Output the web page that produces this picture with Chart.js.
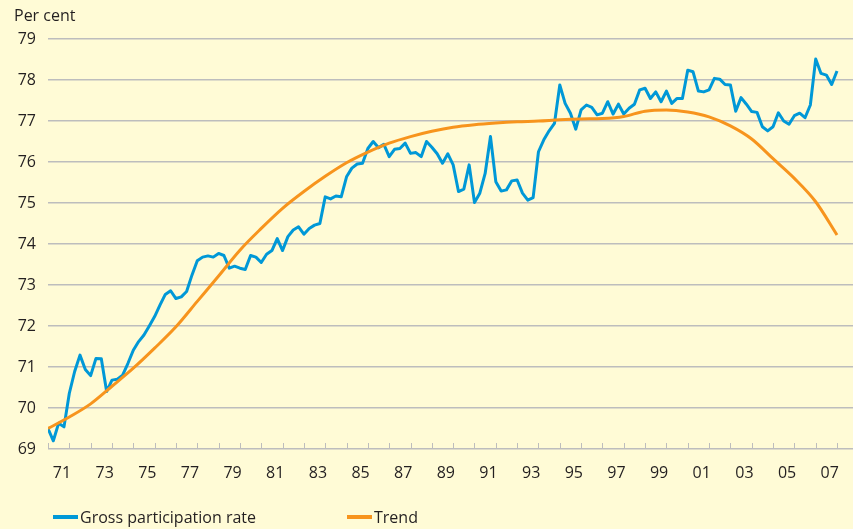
<!DOCTYPE html>
<html>
<head>
<meta charset="utf-8">
<title>Gross participation rate</title>
<script src="https://cdn.jsdelivr.net/npm/chart.js@4.4.0/dist/chart.umd.min.js"></script>
<style>
  html, body { margin: 0; padding: 0; background: #fffbd6; }
  #wrap { width: 853px; height: 529px; }
</style>
</head>
<body>
<div id="wrap"><canvas id="chart" width="853" height="529"></canvas></div>
<script>
// quarterly gross participation rate, 1971 Q1 to 2008 Q1 (per cent)
const participation = [
  69.50, 69.20, 69.63, 69.54,  70.36, 70.89, 71.29, 70.94,  70.79, 71.21, 71.20, 70.40,
  70.68, 70.70, 70.80, 71.09,  71.41, 71.62, 71.78, 72.00,  72.23, 72.51, 72.77, 72.86,
  72.67, 72.71, 72.84, 73.24,  73.59, 73.68, 73.71, 73.68,  73.77, 73.72, 73.41, 73.46,
  73.41, 73.38, 73.72, 73.68,  73.55, 73.75, 73.84, 74.13,  73.84, 74.18, 74.34, 74.42,
  74.24, 74.38, 74.46, 74.50,  75.15, 75.10, 75.17, 75.15,  75.64, 75.85, 75.95, 75.97,
  76.33, 76.50, 76.35, 76.43,  76.13, 76.31, 76.33, 76.46,  76.21, 76.23, 76.13, 76.50,
  76.36, 76.20, 75.97, 76.20,  75.93, 75.28, 75.34, 75.93,  75.01, 75.24, 75.72, 76.62,
  75.52, 75.29, 75.32, 75.54,  75.56, 75.24, 75.07, 75.13,  76.25, 76.54, 76.76, 76.94,
  77.88, 77.43, 77.19, 76.80,  77.27, 77.39, 77.33, 77.15,  77.19, 77.47, 77.17, 77.41,
  77.17, 77.31, 77.41, 77.76,  77.80, 77.55, 77.71, 77.47,  77.73, 77.43, 77.55, 77.55,
  78.24, 78.20, 77.73, 77.71,  77.76, 78.04, 78.02, 77.89,  77.88, 77.24, 77.57, 77.41,
  77.23, 77.21, 76.86, 76.76,  76.86, 77.20, 77.00, 76.92,  77.13, 77.19, 77.08, 77.39,
  78.51, 78.16, 78.12, 77.89,  78.22
];

// trend, read at the start of each year
const trendYears = [
  1971, 1972, 1973, 1974, 1975, 1976, 1977, 1978, 1979, 1980, 1981, 1982, 1983,
  1984, 1985, 1986, 1987, 1988, 1989, 1990, 1991, 1992, 1993, 1994, 1995, 1996,
  1997, 1998, 1999, 2000, 2001, 2002, 2003, 2004, 2005, 2006, 2007, 2008
];
const trend = [
  69.50, 69.78, 70.10, 70.53, 70.97, 71.46, 71.98, 72.60, 73.22, 73.85, 74.38, 74.87, 75.28,
  75.65, 75.98, 76.24, 76.46, 76.62, 76.75, 76.85, 76.91, 76.95, 76.98, 77.00, 77.03, 77.05,
  77.06, 77.11, 77.24, 77.27, 77.22, 77.10, 76.88, 76.56, 76.08, 75.60, 75.03, 74.22
];

const firstYear = 1971;
const quarterX = participation.map((_, i) => firstYear + i / 4);

const TEXT = '#231f20';
const GRID = '#bdbdbd';
const BLUE = '#0098d7';
const ORANGE = '#f7941d';
const FONT = '"Open Sans", "Noto Sans", sans-serif';

// unit label, short upward year ticks on the base line, and the legend row
const decorations = {
  id: 'decorations',
  beforeDatasetsDraw(chart) {
    const { ctx, chartArea, scales: { x } } = chart;
    ctx.save();
    ctx.strokeStyle = GRID;
    ctx.lineWidth = 1;
    x.ticks.forEach(t => {
      const px = Math.round(x.getPixelForValue(t.value)) + 0.5;
      ctx.beginPath();
      ctx.moveTo(px, chartArea.bottom);
      ctx.lineTo(px, chartArea.bottom - 6);
      ctx.stroke();
    });
    ctx.restore();
  },
  afterDraw(chart, args, opts) {
    const { ctx } = chart;
    ctx.save();
    ctx.font = '16px ' + FONT;
    ctx.fillStyle = TEXT;
    ctx.textBaseline = 'alphabetic';
    ctx.fillText('Per cent', 14, 21);
    ctx.textBaseline = 'middle';
    chart.data.datasets.forEach((ds, i) => {
      const left = opts.itemX[i];
      ctx.strokeStyle = ds.borderColor;
      ctx.lineWidth = 4;
      ctx.beginPath();
      ctx.moveTo(left, opts.y);
      ctx.lineTo(left + 25, opts.y);
      ctx.stroke();
      ctx.fillText(ds.label, left + 27, opts.y + 1);
    });
    ctx.restore();
  }
};

new Chart(document.getElementById('chart'), {
  type: 'line',
  data: {
    datasets: [
      {
        label: 'Gross participation rate',
        data: quarterX.map((x, i) => ({ x: x, y: participation[i] })),
        borderColor: BLUE,
        borderWidth: 3,
        borderJoinStyle: 'round',
        pointRadius: 0,
        tension: 0,
        order: 1
      },
      {
        label: 'Trend',
        data: trendYears.map((x, i) => ({ x: x, y: trend[i] })),
        borderColor: ORANGE,
        borderWidth: 3,
        pointRadius: 0,
        cubicInterpolationMode: 'monotone',
        order: 0
      }
    ]
  },
  options: {
    responsive: false,
    animation: false,
    devicePixelRatio: 1,
    layout: { padding: { top: 39, left: 0, right: 0, bottom: 40 } },
    plugins: {
      legend: { display: false },
      tooltip: { enabled: false },
      decorations: { itemX: [53, 347], y: 517 }
    },
    scales: {
      x: {
        type: 'linear',
        min: 1971,
        max: 2008.75,
        afterFit: s => { s.height = 40; },
        grid: { display: false, drawTicks: false },
        border: { display: false },
        ticks: {
          stepSize: 1,
          autoSkip: false,
          includeBounds: false,
          maxRotation: 0,
          padding: 15,
          labelOffset: 14,
          color: TEXT,
          font: { family: FONT, size: 16 },
          callback: v => {
            const yr = Math.round(v);
            return yr % 2 === 1 ? String(yr).slice(2) : '';
          }
        }
      },
      y: {
        min: 69,
        max: 79,
        afterFit: s => { s.width = 48; },
        grid: { color: GRID, lineWidth: 1.5, drawTicks: false },
        border: { display: false },
        ticks: {
          stepSize: 1,
          padding: 12,
          color: TEXT,
          font: { family: FONT, size: 16 }
        }
      }
    }
  },
  plugins: [decorations]
});
</script>
</body>
</html>
